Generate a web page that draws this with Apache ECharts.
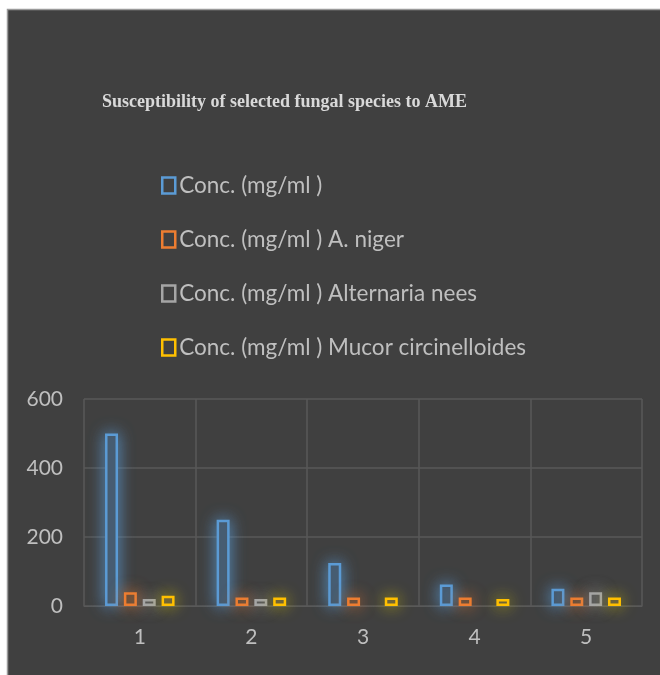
<!DOCTYPE html>
<html><head><meta charset="utf-8">
<script src="https://cdn.jsdelivr.net/npm/echarts@6/dist/echarts.min.js"></script>
<style>html,body{margin:0;padding:0;background:#fff}#c{width:660px;height:675px}</style>
</head><body><div id="c"></div>
<script>
const categories = ['1','2','3','4','5'];
const seriesNames = ['Conc. (mg/ml )','Conc. (mg/ml ) A. niger','Conc. (mg/ml ) Alternaria nees','Conc. (mg/ml ) Mucor circinelloides'];
const blueValues = [500, 250, 125, 62.5, 50];
const orangeValues = [40, 25, 25, 25, 25];
const grayValues = [20, 20, 0, 0, 40];
const yellowValues = [30, 25, 25, 20, 25];
const yTicks = [0, 200, 400, 600];
const colors = ['#5B9BD5','#ED7D31','#A5A5A5','#FFC000'];
const fills = ['#43505d','#5d4b3d','#525252','#615740'];
const glows = ['rgba(91,155,213,0.85)','rgba(237,125,49,0.7)','rgba(165,165,165,0.6)','rgba(215,200,0,0.7)'];
const allValues = [blueValues, orangeValues, grayValues, yellowValues];

const chart = echarts.init(document.getElementById('c'), null, {renderer:'canvas'});
chart.setOption({
  backgroundColor: '#ffffff',
  animation: false,
  graphic: [{
    type: 'rect', z: -10, silent: true,
    shape: {x: 7.5, y: 9.5, width: 660, height: 670},
    style: {fill: '#404040', stroke: '#9a9a9a', lineWidth: 1.5}
  }],
  title: {
    text: 'Susceptibility of selected fungal species to AME',
    left: 97, top: 88,
    textStyle: {fontFamily: 'Liberation Serif', fontWeight: 'bold', fontSize: 18, color: '#d9d9d9'}
  },
  legend: {
    orient: 'vertical', left: 161, top: 174, padding: 0,
    itemWidth: 13, itemHeight: 16, itemGap: 31, icon: 'rect',
    textStyle: {fontFamily: 'Lato', fontSize: 22.5, lineHeight: 21, color: '#bfbfbf', padding: [0,0,0,-1]},
    data: seriesNames.map((n, i) => ({name: n, itemStyle: {color: 'transparent', borderColor: colors[i], borderWidth: 2.5}}))
  },
  grid: {left: 84, right: 18, top: 399, bottom: 69},
  xAxis: {
    type: 'category', data: categories,
    axisLine: {lineStyle: {color: '#595959'}},
    axisTick: {show: false},
    axisLabel: {color: '#bfbfbf', fontFamily: 'Lato', fontSize: 21, margin: 21},
    splitLine: {show: true, lineStyle: {color: '#595959', width: 1.5}}
  },
  yAxis: {
    type: 'value', min: yTicks[0], max: yTicks[yTicks.length-1], interval: 200,
    axisLine: {show: false}, axisTick: {show: false},
    axisLabel: {color: '#bfbfbf', fontFamily: 'Lato', fontSize: 21, margin: 21},
    splitLine: {lineStyle: {color: '#595959', width: 1.5}}
  },
  series: allValues.map((vals, i) => ({
    name: seriesNames[i], type: 'bar', data: vals.map(v => v === 0 ? null : v),
    barWidth: 13, barGap: '45%',
    itemStyle: {color: fills[i], borderColor: colors[i], borderWidth: 2.5, shadowBlur: 16, shadowColor: glows[i]}
  }))
});
</script></body></html>
